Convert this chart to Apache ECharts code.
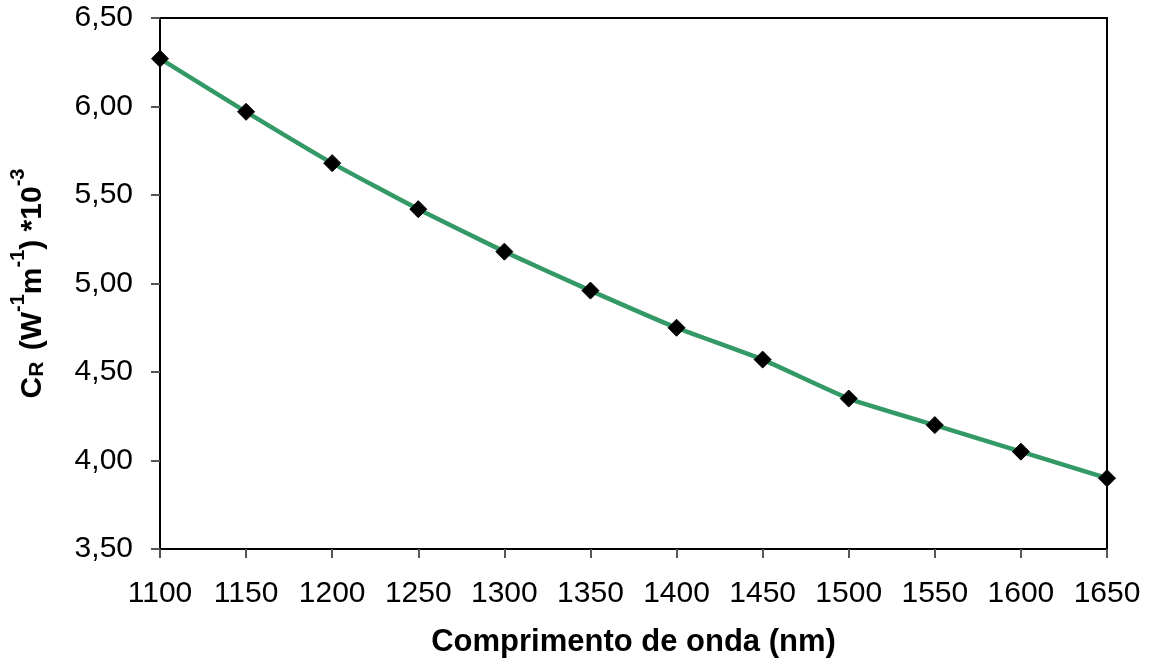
<!DOCTYPE html>
<html>
<head>
<meta charset="utf-8">
<script src="https://cdn.jsdelivr.net/npm/echarts@6/dist/echarts.min.js"></script>
<style>
  html, body { margin: 0; padding: 0; background: #fff; }
  #chart { width: 1155px; height: 667px; }
</style>
</head>
<body>
<div id="chart"></div>
<script>
// Wavelength (nm) and Raman gain coefficient C_R (W^-1 m^-1, x10^-3)
const wavelengths = [1100, 1150, 1200, 1250, 1300, 1350, 1400, 1450, 1500, 1550, 1600, 1650];
const crValues = [6.27, 5.97, 5.68, 5.42, 5.18, 4.96, 4.75, 4.57, 4.35, 4.20, 4.05, 3.90];

const xTitle = 'Comprimento de onda (nm)';
const fontFamily = '"Liberation Sans", Arial, sans-serif';

const chart = echarts.init(document.getElementById('chart'));
chart.setOption({
  backgroundColor: '#ffffff',
  animation: false,
  grid: {
    left: 157, right: 48, top: 18, bottom: 118,
    show: true, borderColor: '#000', borderWidth: 2, backgroundColor: 'transparent'
  },
  xAxis: {
    type: 'value',
    min: 1100, max: 1650, interval: 50,
    name: xTitle,
    nameLocation: 'middle',
    nameGap: 78,
    nameTextStyle: { fontFamily, fontSize: 31, fontWeight: 'bold', color: '#000' },
    axisLine: { show: true, lineStyle: { color: '#000', width: 2 } },
    axisTick: { show: true, inside: false, length: 9, lineStyle: { color: '#555', width: 2 } },
    axisLabel: { fontFamily, fontSize: 30, color: '#000', margin: 30, formatter: v => String(v) },
    splitLine: { show: false }
  },
  yAxis: {
    type: 'value',
    min: 3.5, max: 6.5, interval: 0.5,
    name: '{b|C}{sub|R}{b| (W}{sup|-1}{b|m}{sup|-1}{b|) *10}{sup|-3}',
    nameLocation: 'middle',
    nameRotate: 90,
    nameGap: 112,
    nameTextStyle: {
      fontFamily, color: '#000',
      rich: {
        b: { fontFamily, fontSize: 30, fontWeight: 'bold', color: '#000', lineHeight: 40, verticalAlign: 'bottom' },
        sub: { fontFamily, fontSize: 21, fontWeight: 'bold', color: '#000', lineHeight: 40, verticalAlign: 'bottom', padding: [0, 3, 0, 0] },
        sup: { fontFamily, fontSize: 20, fontWeight: 'bold', color: '#000', lineHeight: 40, verticalAlign: 'top' }
      }
    },
    axisLine: { show: true, lineStyle: { color: '#000', width: 2 } },
    axisTick: { show: true, inside: false, length: 9, lineStyle: { color: '#555', width: 2 } },
    axisLabel: {
      fontFamily, fontSize: 30, color: '#000', margin: 27,
      formatter: v => v.toFixed(2).replace('.', ',')
    },
    splitLine: { show: false }
  },
  series: [{
    type: 'line',
    data: wavelengths.map((w, i) => [w, crValues[i]]),
    smooth: 0.15,
    symbol: 'diamond',
    symbolSize: 17,
    itemStyle: { color: '#000', borderColor: '#000' },
    lineStyle: { color: '#339966', width: 4.5 },
    z: 3,
    clip: false
  }]
});
</script>
</body>
</html>
